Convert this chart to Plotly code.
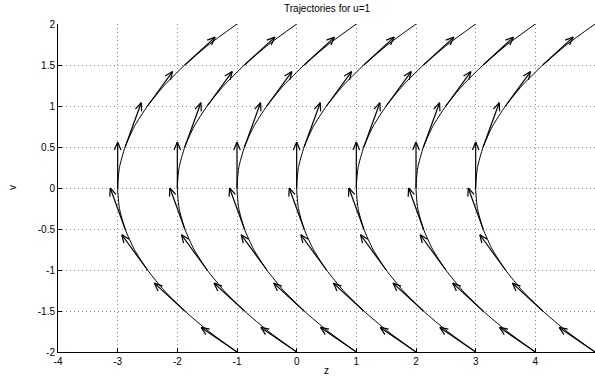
import numpy as np
import plotly.graph_objects as go

# Phase-plane trajectories of z'' = u with u = 1
u = 1
start_z = [-3, -2, -1, 0, 1, 2, 3]

# Trajectory shape: z offset from each starting point as v runs from -2 to 2
v_path = [-2.0, -1.75, -1.5, -1.25, -1.0, -0.75, -0.5, -0.25, 0.0,
          0.25, 0.5, 0.75, 1.0, 1.25, 1.5, 1.75, 2.0]
z_shift = [2.0, 1.53, 1.125, 0.78, 0.5, 0.28, 0.125, 0.03, 0.0,
           0.03, 0.125, 0.28, 0.5, 0.78, 1.125, 1.53, 2.0]

# Direction arrows (dz, dv) = step * (v, u), tails on each trajectory
arrow_v = [-2.0, -1.5, -1.0, -0.5, 0.0, 0.5, 1.0, 1.5]
arrow_step = [0.30, 0.34, 0.43, 0.50, 0.56, 0.54, 0.42, 0.34]

x_ticks = [-4, -3, -2, -1, 0, 1, 2, 3, 4]
x_ticktext = ["-4", "-3", "-2", "-1", "0", "1", "2", "3", "4"]
y_ticks = [-2, -1.5, -1, -0.5, 0, 0.5, 1, 1.5, 2]
y_ticktext = ["-2", "-1.5", "-1", "-0.5", "0", "0.5", "1", "1.5", "2"]

X_RANGE = [-4, 5]
Y_RANGE = [-2, 2]
W, H = 595, 377
M = dict(l=58, r=0, t=24, b=25)
px_x = (W - M["l"] - M["r"]) / (X_RANGE[1] - X_RANGE[0])
px_y = (H - M["t"] - M["b"]) / (Y_RANGE[1] - Y_RANGE[0])

FONT = "Liberation Sans, Arial, Helvetica, sans-serif"

fig = go.Figure()

# trajectories
for z0 in start_z:
    fig.add_trace(go.Scatter(
        x=[z0 + s for s in z_shift], y=v_path, mode="lines",
        line=dict(color="black", width=1, shape="spline", smoothing=0.6),
        hoverinfo="skip", showlegend=False))

# arrows: shaft + two barbs (head sized in screen pixels)
head_len, head_half = 8.0, 3.3
ax, ay = [], []
for z0 in start_z:
    for v0, st in zip(arrow_v, arrow_step):
        zt = z0 + float(np.interp(v0, v_path, z_shift))
        dz, dv = st * v0, st * u
        z1, v1 = zt + dz, v0 + dv
        ax += [zt, z1, None]
        ay += [v0, v1, None]
        # direction in pixel space (y up)
        px, py = dz * px_x, dv * px_y
        n = np.hypot(px, py)
        ux, uy = px / n, py / n
        for sgn in (1, -1):
            bx = -head_len * ux + sgn * head_half * (-uy)
            by = -head_len * uy + sgn * head_half * ux
            ax += [z1, z1 + bx / px_x, None]
            ay += [v1, v1 + by / px_y, None]

fig.add_trace(go.Scatter(
    x=ax, y=ay, mode="lines", line=dict(color="black", width=1.2),
    hoverinfo="skip", showlegend=False))

axis_common = dict(
    showline=True, linecolor="black", linewidth=1,
    ticks="inside", ticklen=4, tickcolor="black", tickwidth=1,
    showgrid=True, gridcolor="#8a8a8a", gridwidth=1, griddash="1px,3px",
    zeroline=False, tickfont=dict(family=FONT, size=10, color="black"),
    fixedrange=True,
)

fig.update_layout(
    width=W, height=H, margin=M,
    paper_bgcolor="white", plot_bgcolor="white",
    xaxis=dict(range=X_RANGE, tickvals=x_ticks, ticktext=x_ticktext, **axis_common),
    yaxis=dict(range=Y_RANGE, tickvals=y_ticks, ticktext=y_ticktext, **axis_common),
    annotations=[
        dict(text="Trajectories for u=1", x=0.5, y=1, xref="paper", yref="paper",
             xanchor="center", yanchor="bottom", yshift=8, showarrow=False,
             font=dict(family=FONT, size=10, color="black")),
        dict(text="z", x=0.5, y=0, xref="paper", yref="paper",
             xanchor="center", yanchor="top", yshift=-11, showarrow=False,
             font=dict(family=FONT, size=10, color="black")),
        dict(text="v", x=0, y=0.5, xref="paper", yref="paper", textangle=-90,
             xanchor="center", yanchor="middle", xshift=-46, showarrow=False,
             font=dict(family=FONT, size=10, color="black")),
    ],
)

fig.write_html("out.html")
